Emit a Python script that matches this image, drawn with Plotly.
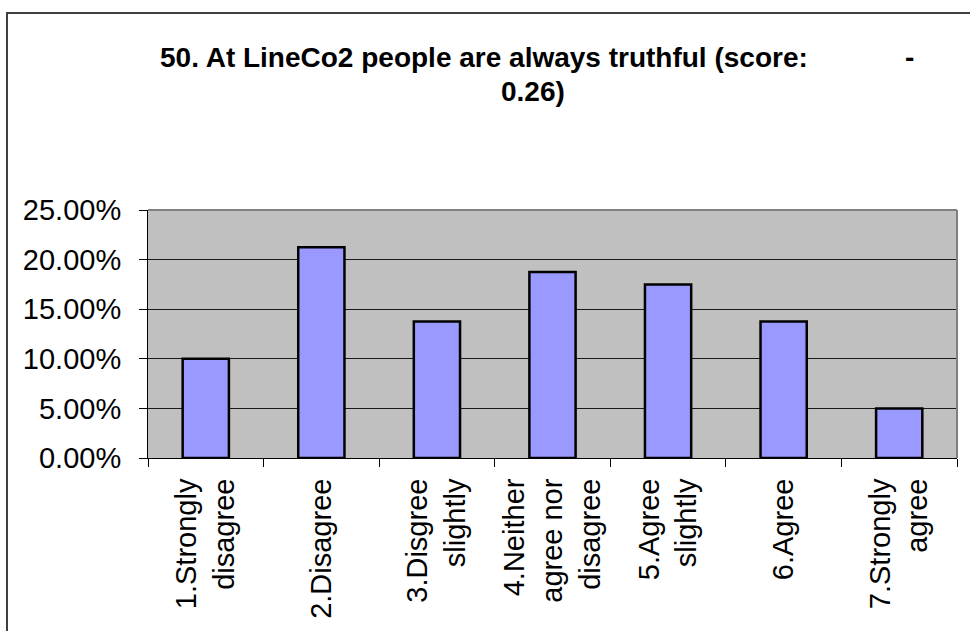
import plotly.graph_objects as go

# Survey response shares for statement 50
categories = [
    "1.Strongly<br>disagree",
    "2.Disagree",
    "3.Disgree<br>slightly",
    "4.Neither<br>agree nor<br>disagree",
    "5.Agree<br>slightly",
    "6.Agree",
    "7.Strongly<br>agree",
]
shares = [0.10, 0.2125, 0.1375, 0.1875, 0.175, 0.1375, 0.05]
y_ticks = [0.0, 0.05, 0.10, 0.15, 0.20, 0.25]

title_line1 = "50. At LineCo2 people are always truthful (score:"
title_dash = "-"
title_line2 = "0.26)"

W, H = 970, 631
L, R, T, B = 148, 13, 210, 173
PW, PH = W - L - R, H - T - B


def px(x):
    return (x - L) / PW


def py(y):
    return (H - B - y) / PH


FONT = "Liberation Sans, Arial, sans-serif"
TICK_SIZE = 29
TITLE_SIZE = 28

fig = go.Figure(
    go.Bar(
        x=categories,
        y=shares,
        width=0.4,
        marker=dict(color="#9999FF", line=dict(color="#000000", width=2.5)),
    )
)

fig.update_layout(
    width=W,
    height=H,
    margin=dict(l=L, r=R, t=T, b=B, pad=0),
    paper_bgcolor="#FFFFFF",
    plot_bgcolor="#C0C0C0",
    showlegend=False,
    font=dict(family=FONT, color="#000000", size=TICK_SIZE),
    bargap=0.6,
)

fig.update_yaxes(
    range=[0, 0.25],
    tickvals=y_ticks,
    tickformat=".2%",
    showgrid=True,
    gridcolor="#1a1a1a",
    gridwidth=1,
    zeroline=False,
    showline=True,
    linecolor="#000000",
    linewidth=1,
    ticks="outside",
    ticklen=8,
    tickcolor="#000000",
    tickfont=dict(size=TICK_SIZE, family=FONT),
    ticklabelstandoff=12,
)

fig.update_xaxes(
    type="category",
    tickangle=-90,
    showline=True,
    linecolor="#000000",
    linewidth=1,
    ticks="outside",
    ticklen=8,
    tickcolor="#000000",
    tickson="boundaries",
    tickfont=dict(size=TICK_SIZE, family=FONT),
    ticklabelstandoff=8,
)

# Plot-area frame on the top and right, plus the outer chart border
fig.add_shape(type="line", xref="paper", yref="paper", x0=0, x1=1, y0=1, y1=1,
              line=dict(color="#808080", width=2))
fig.add_shape(type="line", xref="paper", yref="paper", x0=1, x1=1, y0=0, y1=1,
              line=dict(color="#808080", width=2))
fig.add_shape(type="rect", xref="paper", yref="paper",
              x0=px(7), x1=px(W + 20), y0=py(H + 20), y1=py(13),
              line=dict(color="#404040", width=2), fillcolor="rgba(0,0,0,0)", layer="below")

title_font = dict(family=FONT, size=TITLE_SIZE, color="#000000")
fig.add_annotation(text="<b>" + title_line1 + "</b>", xref="paper", yref="paper",
                   x=px(158), y=py(57), xanchor="left", yanchor="middle",
                   showarrow=False, font=title_font)
fig.add_annotation(text="<b>" + title_dash + "</b>", xref="paper", yref="paper",
                   x=px(909), y=py(57), xanchor="center", yanchor="middle",
                   showarrow=False, font=title_font)
fig.add_annotation(text="<b>" + title_line2 + "</b>", xref="paper", yref="paper",
                   x=px(533), y=py(91), xanchor="center", yanchor="middle",
                   showarrow=False, font=title_font)

fig.write_html("out.html")
